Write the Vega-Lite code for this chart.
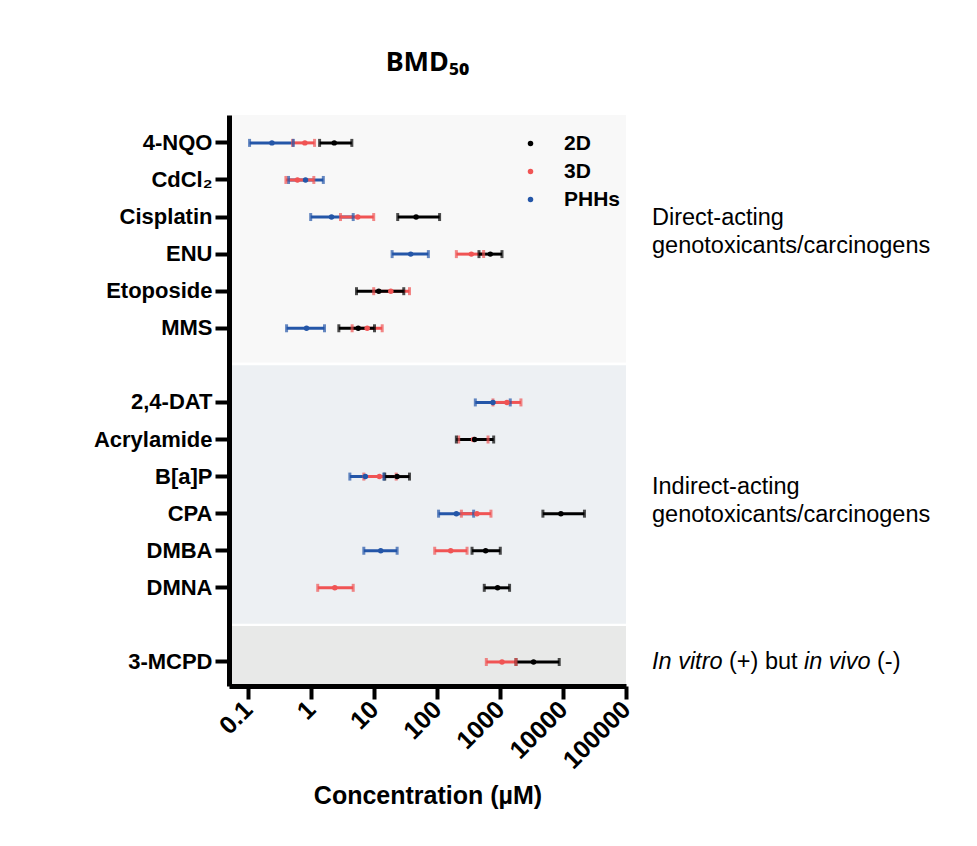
{
  "$schema": "https://vega.github.io/schema/vega-lite/v6.json",
  "width": 397,
  "height": 571,
  "autosize": {"type": "none"},
  "padding": {"left": 229, "top": 115, "right": 351, "bottom": 160},
  "background": "white",
  "config": {
    "font": "Liberation Sans",
    "view": {"stroke": null}
  },
  "title": {
    "text": "BMD₅₀",
    "font": "Noto Sans",
    "fontSize": 27,
    "fontWeight": "bold",
    "color": "black",
    "anchor": "middle",
    "baseline": "alphabetic",
    "offset": 17
  },
  "datasets": {
    "bands": [
      {"group": "direct", "start": "4-NQO", "end": "gap1"},
      {"group": "indirect", "start": "gap1", "end": "gap2"},
      {"group": "vitro", "start": "gap2", "end": "3-MCPD"}
    ],
    "bmd": [
      {"drug": "4-NQO", "model": "PHHs", "low": 0.106, "bmd": 0.24, "high": 0.525},
      {"drug": "CdCl₂", "model": "PHHs", "low": 0.44, "bmd": 0.82, "high": 1.57},
      {"drug": "Cisplatin", "model": "PHHs", "low": 0.99, "bmd": 2.12, "high": 4.68},
      {"drug": "ENU", "model": "PHHs", "low": 19.4, "bmd": 38.3, "high": 73},
      {"drug": "MMS", "model": "PHHs", "low": 0.41, "bmd": 0.85, "high": 1.64},
      {"drug": "2,4-DAT", "model": "PHHs", "low": 406, "bmd": 774, "high": 1455},
      {"drug": "B[a]P", "model": "PHHs", "low": 4.14, "bmd": 7.3, "high": 14.3},
      {"drug": "CPA", "model": "PHHs", "low": 106, "bmd": 203, "high": 382},
      {"drug": "DMBA", "model": "PHHs", "low": 6.9, "bmd": 12.8, "high": 23.3},
      {"drug": "4-NQO", "model": "3D", "low": 0.51, "bmd": 0.8, "high": 1.14},
      {"drug": "CdCl₂", "model": "3D", "low": 0.4, "bmd": 0.61, "high": 1.11},
      {"drug": "Cisplatin", "model": "3D", "low": 2.94, "bmd": 5.53, "high": 9.9},
      {"drug": "ENU", "model": "3D", "low": 203, "bmd": 351, "high": 550},
      {"drug": "Etoposide", "model": "3D", "low": 9.9, "bmd": 18.5, "high": 36.6},
      {"drug": "MMS", "model": "3D", "low": 4.5, "bmd": 7.8, "high": 13.5},
      {"drug": "2,4-DAT", "model": "3D", "low": 774, "bmd": 1290, "high": 2150},
      {"drug": "Acrylamide", "model": "3D", "low": 221, "bmd": 380, "high": 646},
      {"drug": "B[a]P", "model": "3D", "low": 6.9, "bmd": 12.2, "high": 22.5},
      {"drug": "CPA", "model": "3D", "low": 244, "bmd": 431, "high": 719},
      {"drug": "DMBA", "model": "3D", "low": 92, "bmd": 165, "high": 300},
      {"drug": "DMNA", "model": "3D", "low": 1.28, "bmd": 2.39, "high": 4.68},
      {"drug": "3-MCPD", "model": "3D", "low": 607, "bmd": 1076, "high": 1795},
      {"drug": "4-NQO", "model": "2D", "low": 1.37, "bmd": 2.34, "high": 4.45},
      {"drug": "Cisplatin", "model": "2D", "low": 23.8, "bmd": 46.6, "high": 110},
      {"drug": "ENU", "model": "2D", "low": 464, "bmd": 702, "high": 1076},
      {"drug": "Etoposide", "model": "2D", "low": 5.28, "bmd": 11.9, "high": 29.7},
      {"drug": "MMS", "model": "2D", "low": 2.77, "bmd": 5.62, "high": 10.2},
      {"drug": "Acrylamide", "model": "2D", "low": 203, "bmd": 396, "high": 794},
      {"drug": "B[a]P", "model": "2D", "low": 14.8, "bmd": 23.3, "high": 36.6},
      {"drug": "CPA", "model": "2D", "low": 4800, "bmd": 9260, "high": 21900},
      {"drug": "DMBA", "model": "2D", "low": 360, "bmd": 592, "high": 1011},
      {"drug": "DMNA", "model": "2D", "low": 563, "bmd": 916, "high": 1419},
      {"drug": "3-MCPD", "model": "2D", "low": 1795, "bmd": 3410, "high": 8710}
    ],
    "notes": [
      {"drug": "Cisplatin", "group": "direct", "lines": ["Direct-acting", "genotoxicants/carcinogens"]},
      {"drug": "B[a]P", "group": "indirect", "lines": ["Indirect-acting", "genotoxicants/carcinogens"]}
    ],
    "vitro": [
      {"drug": "3-MCPD", "part": "In vitro", "order": 0},
      {"drug": "3-MCPD", "part": "(+) but", "order": 1},
      {"drug": "3-MCPD", "part": "in vivo", "order": 2},
      {"drug": "3-MCPD", "part": "(-)", "order": 3}
    ]
  },
  "resolve": {"scale": {"color": "independent"}},
  "layer": [
    {
      "data": {"name": "bands"},
      "mark": {"type": "rect"},
      "transform": [{"filter": "datum.group == 'direct'"}],
      "encoding": {
        "y": {"field": "start", "type": "nominal", "bandPosition": -0.25},
        "y2": {"field": "end", "bandPosition": 0.42},
        "color": {"value": "#f8f8f8"}
      }
    },
    {
      "data": {"name": "bands"},
      "mark": {"type": "rect"},
      "transform": [{"filter": "datum.group == 'indirect'"}],
      "encoding": {
        "y": {"field": "start", "type": "nominal", "bandPosition": 0.5},
        "y2": {"field": "end", "bandPosition": 0.47},
        "color": {"value": "#edf0f3"}
      }
    },
    {
      "data": {"name": "bands"},
      "mark": {"type": "rect"},
      "transform": [{"filter": "datum.group == 'vitro'"}],
      "encoding": {
        "y": {"field": "start", "type": "nominal", "bandPosition": 0.53},
        "y2": {"field": "end", "bandPosition": 1.2},
        "color": {"value": "#e8e9e8"}
      }
    },
    {
      "data": {"name": "bmd"},
      "mark": {"type": "rule", "strokeWidth": 3},
      "encoding": {
        "x": {"field": "low", "type": "quantitative"},
        "x2": {"field": "high"},
        "y": {"field": "drug", "type": "nominal"},
        "color": {"field": "model", "type": "nominal", "legend": null,
          "scale": {"domain": ["2D", "3D", "PHHs"], "range": ["#000000", "#f05454", "#2456a8"]}}
      }
    },
    {
      "data": {"name": "bmd"},
      "mark": {"type": "tick", "thickness": 3, "size": 8},
      "encoding": {
        "x": {"field": "low", "type": "quantitative"},
        "y": {"field": "drug", "type": "nominal"},
        "color": {"field": "model", "type": "nominal", "legend": null,
          "scale": {"domain": ["2D", "3D", "PHHs"], "range": ["#000000", "#f05454", "#2456a8"]}}
      }
    },
    {
      "data": {"name": "bmd"},
      "mark": {"type": "tick", "thickness": 3, "size": 8},
      "encoding": {
        "x": {"field": "high", "type": "quantitative"},
        "y": {"field": "drug", "type": "nominal"},
        "color": {"field": "model", "type": "nominal", "legend": null,
          "scale": {"domain": ["2D", "3D", "PHHs"], "range": ["#000000", "#f05454", "#2456a8"]}}
      }
    },
    {
      "data": {"name": "bmd"},
      "mark": {"type": "circle", "size": 30, "opacity": 1},
      "encoding": {
        "x": {
          "field": "bmd", "type": "quantitative",
          "scale": {"type": "log", "domain": [0.05, 100000], "nice": false},
          "axis": {
            "values": [0.1, 1, 10, 100, 1000, 10000, 100000],
            "labelExpr": "datum.value < 1 ? '0.1' : format(datum.value, 'd')",
            "labelAngle": -45,
            "labelAlign": "right",
            "labelBaseline": "middle",
            "labelFontSize": 25,
            "labelFontWeight": "bold",
            "labelColor": "black",
            "labelPadding": 6,
            "labelOverlap": false,
            "labelBound": false,
            "labelFlush": false,
            "tickSize": 13,
            "tickWidth": 4,
            "tickColor": "black",
            "domainWidth": 5,
            "domainColor": "black",
            "grid": false,
            "title": "Concentration (µM)",
            "titleFontSize": 25,
            "titleFontWeight": "bold",
            "titleColor": "black",
            "titlePadding": 10,
            "zindex": 2
          }
        },
        "y": {
          "field": "drug", "type": "nominal",
          "scale": {
            "domain": ["4-NQO", "CdCl₂", "Cisplatin", "ENU", "Etoposide", "MMS", "gap1", "2,4-DAT", "Acrylamide", "B[a]P", "CPA", "DMBA", "DMNA", "gap2", "3-MCPD"],
            "paddingInner": 0, "paddingOuter": 0.2, "align": 0.63
          },
          "axis": {
            "title": null,
            "labelExpr": "indexof(datum.value, 'gap') == 0 ? '' : datum.value",
            "labelFontSize": 22,
            "labelFontWeight": "bold",
            "labelColor": "black",
            "labelPadding": 3,
            "tickSize": 14,
            "tickWidth": 4,
            "tickColor": "black",
            "tickOpacity": {"condition": {"test": "indexof(datum.value, 'gap') == 0", "value": 0}, "value": 1},
            "domainWidth": 5,
            "domainColor": "black",
            "grid": false,
            "zindex": 2
          }
        },
        "color": {
          "field": "model", "type": "nominal",
          "scale": {"domain": ["2D", "3D", "PHHs"], "range": ["#000000", "#f05454", "#2456a8"]},
          "legend": {
            "title": null,
            "orient": "none",
            "legendX": 291,
            "legendY": 18,
            "symbolType": "circle",
            "symbolSize": 30,
            "symbolStrokeWidth": 0,
            "labelFontSize": 21,
            "labelFontWeight": "bold",
            "labelColor": "black",
            "labelOffset": 23,
            "rowPadding": 6
          }
        }
      }
    },
    {
      "data": {"name": "notes"},
      "transform": [{"filter": "datum.group == 'direct'"}],
      "mark": {"type": "text", "align": "left", "baseline": "middle", "fontSize": 23.5, "lineHeight": 28, "color": "black", "dx": 26},
      "encoding": {
        "x": {"datum": 100000},
        "y": {"field": "drug", "type": "nominal", "bandPosition": 0.53},
        "text": {"field": "lines"}
      }
    },
    {
      "data": {"name": "notes"},
      "transform": [{"filter": "datum.group == 'indirect'"}],
      "mark": {"type": "text", "align": "left", "baseline": "middle", "fontSize": 23.5, "lineHeight": 28, "color": "black", "dx": 26},
      "encoding": {
        "x": {"datum": 100000},
        "y": {"field": "drug", "type": "nominal", "bandPosition": 0.77},
        "text": {"field": "lines"}
      }
    },
    {
      "data": {"name": "vitro"},
      "transform": [{"filter": "datum.order == 0"}],
      "mark": {"type": "text", "align": "left", "baseline": "middle", "fontSize": 23.5, "fontStyle": "italic", "color": "black", "dx": 26},
      "encoding": {"x": {"datum": 100000}, "y": {"field": "drug", "type": "nominal"}, "text": {"field": "part"}}
    },
    {
      "data": {"name": "vitro"},
      "transform": [{"filter": "datum.order == 1"}],
      "mark": {"type": "text", "align": "left", "baseline": "middle", "fontSize": 23.5, "color": "black", "dx": 103},
      "encoding": {"x": {"datum": 100000}, "y": {"field": "drug", "type": "nominal"}, "text": {"field": "part"}}
    },
    {
      "data": {"name": "vitro"},
      "transform": [{"filter": "datum.order == 2"}],
      "mark": {"type": "text", "align": "left", "baseline": "middle", "fontSize": 23.5, "fontStyle": "italic", "color": "black", "dx": 178},
      "encoding": {"x": {"datum": 100000}, "y": {"field": "drug", "type": "nominal"}, "text": {"field": "part"}}
    },
    {
      "data": {"name": "vitro"},
      "transform": [{"filter": "datum.order == 3"}],
      "mark": {"type": "text", "align": "left", "baseline": "middle", "fontSize": 23.5, "color": "black", "dx": 251},
      "encoding": {"x": {"datum": 100000}, "y": {"field": "drug", "type": "nominal"}, "text": {"field": "part"}}
    }
  ]
}
